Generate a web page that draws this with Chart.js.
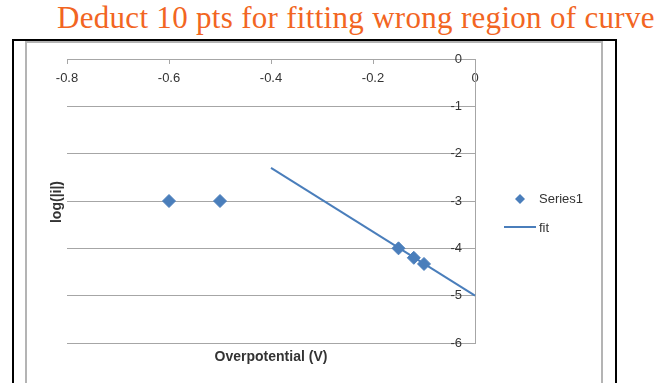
<!DOCTYPE html>
<html>
<head>
<meta charset="utf-8">
<script src="https://cdn.jsdelivr.net/npm/chart.js@4/dist/chart.umd.min.js"></script>
<style>
  html, body { margin: 0; padding: 0; background: #fff; }
  #wrap { position: relative; width: 670px; height: 383px; overflow: hidden; }
  #title {
    position: absolute; left: 57px; top: 0px;
    font: 31px "Liberation Serif", "DejaVu Serif", serif;
    letter-spacing: 0.3px;
    color: #f26522; white-space: nowrap; line-height: 36px;
  }
  #outer {
    position: absolute; left: 12px; top: 39px; width: 601px; height: 400px;
    border: 2px solid #000; border-bottom: none;
  }
  #inner {
    position: absolute; left: 25px; top: 41px; width: 574px; height: 400px;
    border: 2px solid #b4b4b4; border-bottom: none;
  }
  canvas { position: absolute; left: 0; top: 0; }
</style>
</head>
<body>
<div id="wrap">
  <div id="title">Deduct 10 pts for fitting wrong region of curve</div>
  <div id="outer"></div>
  <div id="inner"></div>
  <canvas id="chart" width="670" height="383"></canvas>
</div>
<script>
// measured points (overpotential V, log|i|)
const seriesX = [-0.6, -0.5, -0.15, -0.12, -0.1];
const seriesY = [-3, -3, -4.0, -4.2, -4.33];
// fitted line end points
const fitX = [-0.4, 0];
const fitY = [-2.3, -5];

const xTicks = [-0.8, -0.6, -0.4, -0.2, 0];
const yTicks = [0, -1, -2, -3, -4, -5, -6];

const blue = '#4a7ebb';
const gridGray = '#a6a6a6';
const textCol = '#333333';
const sans = '"Liberation Sans", Arial, sans-serif';

const extras = {
  id: 'extras',
  afterDraw(chart) {
    const ctx = chart.ctx;
    const area = chart.chartArea;
    ctx.save();
    ctx.fillStyle = textCol;
    ctx.font = 'bold 14px ' + sans;
    ctx.textAlign = 'center';
    ctx.textBaseline = 'middle';
    ctx.fillText('Overpotential (V)', (area.left + area.right) / 2, 357);
    ctx.translate(57, 202);
    ctx.rotate(-Math.PI / 2);
    ctx.fillText('log(|i|)', 0, 0);
    ctx.restore();

    // legend
    ctx.save();
    ctx.fillStyle = blue;
    ctx.beginPath();
    ctx.moveTo(520 - 5, 199);
    ctx.lineTo(520, 194);
    ctx.lineTo(520 + 5, 199);
    ctx.lineTo(520, 204);
    ctx.closePath();
    ctx.fill();
    ctx.strokeStyle = blue;
    ctx.lineWidth = 2;
    ctx.beginPath();
    ctx.moveTo(504, 227);
    ctx.lineTo(536, 227);
    ctx.stroke();
    ctx.fillStyle = textCol;
    ctx.font = '13px ' + sans;
    ctx.textAlign = 'left';
    ctx.textBaseline = 'middle';
    ctx.fillText(chart.data.datasets[0].label, 539, 199);
    ctx.fillText(chart.data.datasets[1].label, 539, 228);
    ctx.restore();
  }
};

new Chart(document.getElementById('chart'), {
  type: 'scatter',
  data: {
    datasets: [
      {
        label: 'Series1',
        data: seriesX.map((x, i) => ({ x: x, y: seriesY[i] })),
        pointStyle: 'rectRot',
        pointRadius: 6.5,
        backgroundColor: blue,
        borderColor: blue,
        borderWidth: 1,
        showLine: false,
        clip: false
      },
      {
        label: 'fit',
        data: fitX.map((x, i) => ({ x: x, y: fitY[i] })),
        showLine: true,
        pointRadius: 0,
        borderColor: blue,
        borderWidth: 2,
        clip: false
      }
    ]
  },
  options: {
    responsive: false,
    animation: false,
    layout: { padding: { left: 67, right: 195, top: 59, bottom: 40 } },
    plugins: { legend: { display: false }, tooltip: { enabled: false } },
    scales: {
      x: {
        type: 'linear',
        min: -0.8, max: 0,
        position: { y: 0 },
        afterBuildTicks: s => { s.ticks = xTicks.map(v => ({ value: v })); },
        afterFit: s => { s.height = 0; },
        grid: { drawOnChartArea: false, drawTicks: true, tickLength: 4, color: gridGray },
        border: { color: gridGray },
        ticks: { padding: 8, color: textCol, font: { family: sans, size: 13 },
                 callback: v => String(v) }
      },
      y: {
        type: 'linear',
        min: -6, max: 0,
        position: { x: 0 },
        afterBuildTicks: s => { s.ticks = yTicks.map(v => ({ value: v })); },
        afterFit: s => { s.width = 0; },
        grid: { drawTicks: false, color: gridGray },
        border: { color: gridGray },
        // labels sit right-aligned on the axis; an em space keeps them clear of it
        ticks: { color: textCol, font: { family: sans, size: 13 },
                 callback: v => String(v) + '\u2003' }
      }
    }
  },
  plugins: [extras]
});
</script>
</body>
</html>
